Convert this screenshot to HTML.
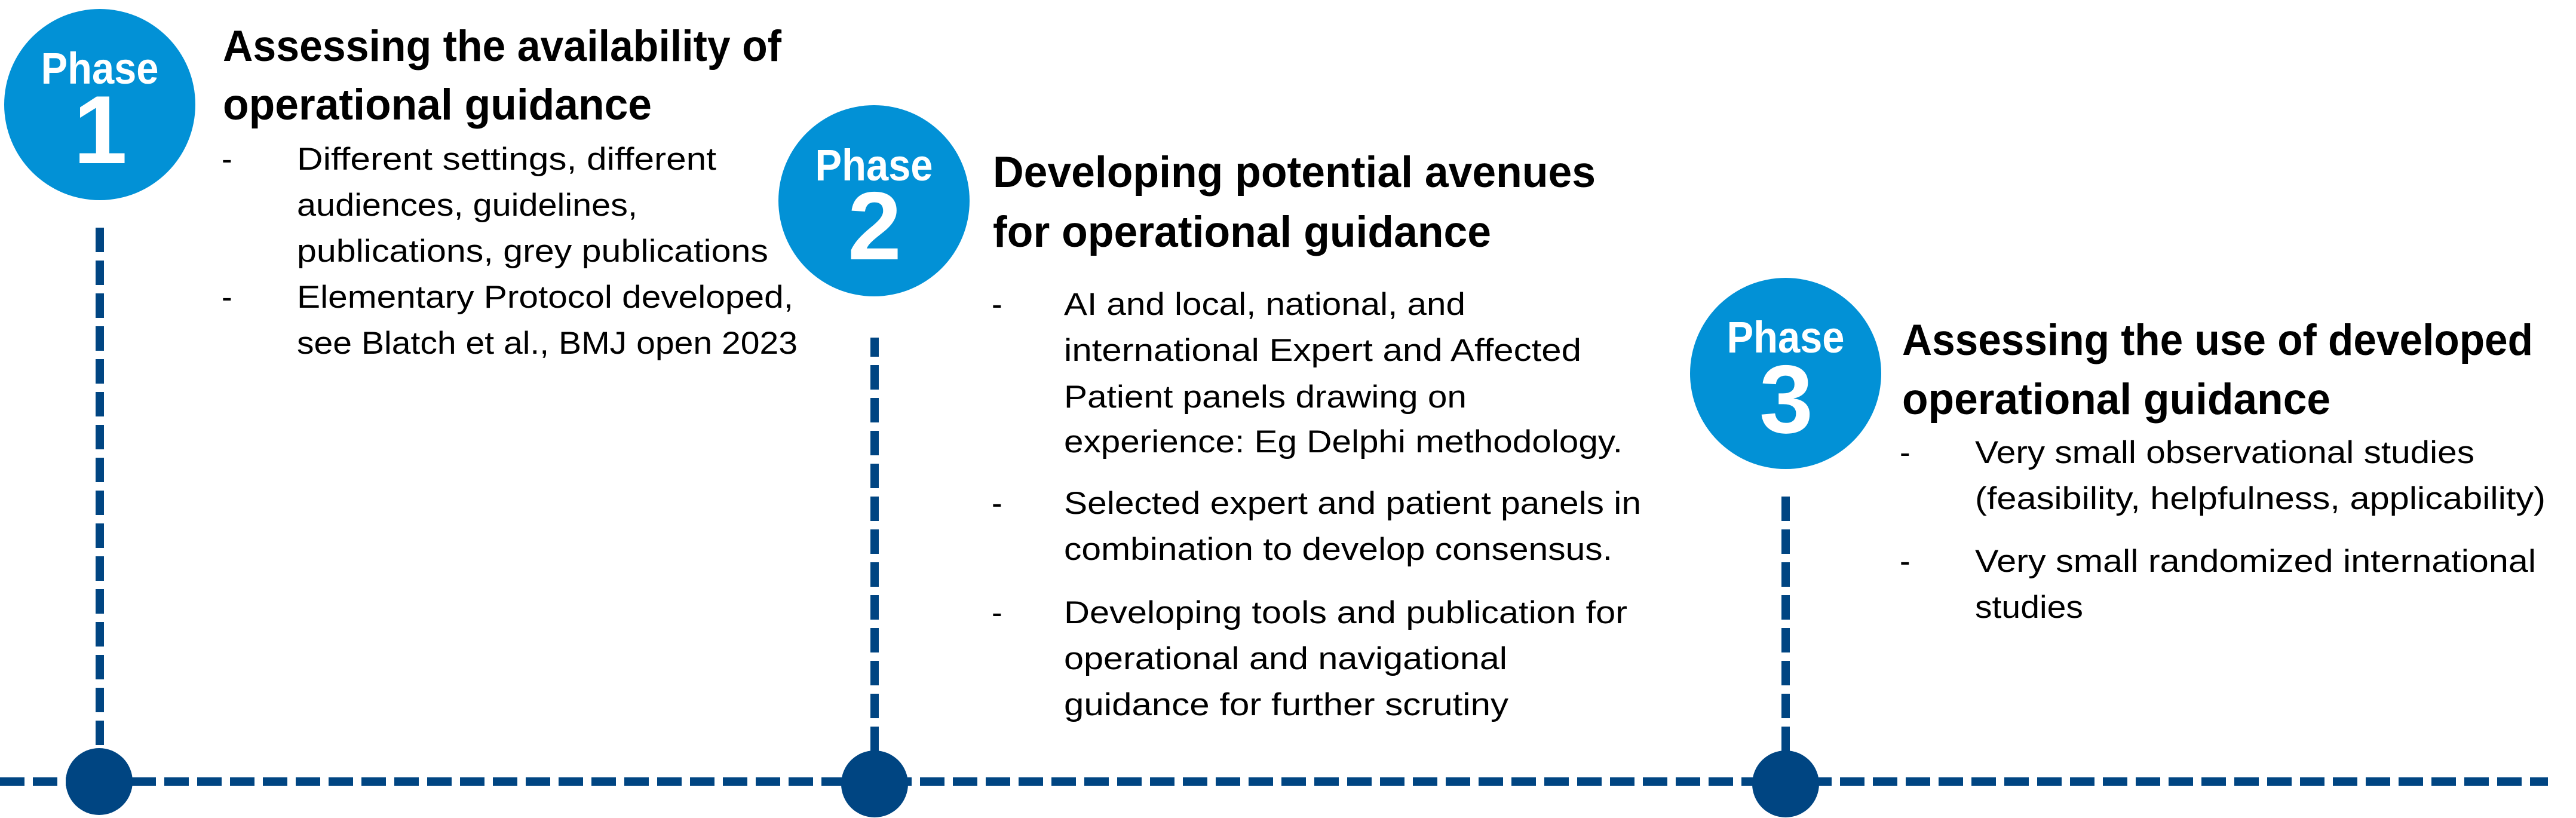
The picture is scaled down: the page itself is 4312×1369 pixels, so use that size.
<!DOCTYPE html>
<html>
<head>
<meta charset="utf-8">
<style>
html,body{margin:0;padding:0;background:#fff;width:4312px;height:1369px;overflow:hidden;}
svg{display:block;}
text{font-family:"Liberation Sans",Arial,sans-serif;}
.t{font-weight:bold;font-size:73px;fill:#000;}
.b{font-size:53px;fill:#000;}
.ph{font-weight:bold;font-size:74px;fill:#fff;}
.num{font-weight:bold;font-size:162px;fill:#fff;}
</style>
</head>
<body>
<svg width="4312" height="1369" viewBox="0 0 4312 1369" xmlns="http://www.w3.org/2000/svg">
  <!-- horizontal timeline -->
  <line x1="0" y1="1308" x2="4265" y2="1308" stroke="#004582" stroke-width="14" stroke-dasharray="41 14"/>
  <!-- vertical dashed lines -->
  <line x1="167" y1="381" x2="167" y2="1300" stroke="#004582" stroke-width="14" stroke-dasharray="41 14"/>
  <line x1="1464" y1="1312" x2="1464" y2="565" stroke="#004582" stroke-width="14" stroke-dasharray="41 14"/>
  <line x1="2989" y1="1312" x2="2989" y2="831" stroke="#004582" stroke-width="14" stroke-dasharray="41 14"/>
  <!-- dots -->
  <circle cx="166" cy="1308" r="56" fill="#004582"/>
  <circle cx="1464" cy="1312" r="56" fill="#004582"/>
  <circle cx="2989" cy="1312" r="56" fill="#004582"/>

  <!-- Phase circles -->
  <circle cx="167" cy="175" r="160" fill="#0291D6"/>
  <text class="ph" x="167" y="140" text-anchor="middle" textLength="197" lengthAdjust="spacingAndGlyphs">Phase</text>
  <text class="num" x="168" y="273" text-anchor="middle">1</text>

  <circle cx="1463" cy="336" r="160" fill="#0291D6"/>
  <text class="ph" x="1463" y="302" text-anchor="middle" textLength="197" lengthAdjust="spacingAndGlyphs">Phase</text>
  <text class="num" x="1464" y="434" text-anchor="middle">2</text>

  <circle cx="2989" cy="625" r="160" fill="#0291D6"/>
  <text class="ph" x="2989" y="590" text-anchor="middle" textLength="197" lengthAdjust="spacingAndGlyphs">Phase</text>
  <text class="num" x="2990" y="724" text-anchor="middle">3</text>

  <!-- Phase 1 text -->
  <text class="t" x="373" y="102" textLength="935" lengthAdjust="spacingAndGlyphs">Assessing the availability of</text>
  <text class="t" x="373" y="200" textLength="718" lengthAdjust="spacingAndGlyphs">operational guidance</text>
  <text class="b" x="371" y="284">-</text>
  <text class="b" x="497" y="284" textLength="702" lengthAdjust="spacingAndGlyphs">Different settings, different</text>
  <text class="b" x="497" y="361" textLength="570" lengthAdjust="spacingAndGlyphs">audiences, guidelines,</text>
  <text class="b" x="497" y="438" textLength="789" lengthAdjust="spacingAndGlyphs">publications, grey publications</text>
  <text class="b" x="371" y="515">-</text>
  <text class="b" x="497" y="515" textLength="831" lengthAdjust="spacingAndGlyphs">Elementary Protocol developed,</text>
  <text class="b" x="497" y="592" textLength="838" lengthAdjust="spacingAndGlyphs">see Blatch et al., BMJ open 2023</text>

  <!-- Phase 2 text -->
  <text class="t" x="1662" y="313" textLength="1009" lengthAdjust="spacingAndGlyphs">Developing potential avenues</text>
  <text class="t" x="1662" y="413" textLength="834" lengthAdjust="spacingAndGlyphs">for operational guidance</text>
  <text class="b" x="1660" y="527">-</text>
  <text class="b" x="1781" y="527" textLength="672" lengthAdjust="spacingAndGlyphs">AI and local, national, and</text>
  <text class="b" x="1781" y="604" textLength="866" lengthAdjust="spacingAndGlyphs">international Expert and Affected</text>
  <text class="b" x="1781" y="682" textLength="674" lengthAdjust="spacingAndGlyphs">Patient panels drawing on</text>
  <text class="b" x="1781" y="757" textLength="935" lengthAdjust="spacingAndGlyphs">experience: Eg Delphi methodology.</text>
  <text class="b" x="1660" y="860">-</text>
  <text class="b" x="1781" y="860" textLength="966" lengthAdjust="spacingAndGlyphs">Selected expert and patient panels in</text>
  <text class="b" x="1781" y="937" textLength="918" lengthAdjust="spacingAndGlyphs">combination to develop consensus.</text>
  <text class="b" x="1660" y="1043">-</text>
  <text class="b" x="1781" y="1043" textLength="943" lengthAdjust="spacingAndGlyphs">Developing tools and publication for</text>
  <text class="b" x="1781" y="1120" textLength="742" lengthAdjust="spacingAndGlyphs">operational and navigational</text>
  <text class="b" x="1781" y="1197" textLength="744" lengthAdjust="spacingAndGlyphs">guidance for further scrutiny</text>

  <!-- Phase 3 text -->
  <text class="t" x="3184" y="594" textLength="1056" lengthAdjust="spacingAndGlyphs">Assessing the use of developed</text>
  <text class="t" x="3184" y="693" textLength="717" lengthAdjust="spacingAndGlyphs">operational guidance</text>
  <text class="b" x="3180" y="775">-</text>
  <text class="b" x="3306" y="775" textLength="836" lengthAdjust="spacingAndGlyphs">Very small observational studies</text>
  <text class="b" x="3306" y="852" textLength="955" lengthAdjust="spacingAndGlyphs">(feasibility, helpfulness, applicability)</text>
  <text class="b" x="3180" y="957">-</text>
  <text class="b" x="3306" y="957" textLength="939" lengthAdjust="spacingAndGlyphs">Very small randomized international</text>
  <text class="b" x="3306" y="1034" textLength="181" lengthAdjust="spacingAndGlyphs">studies</text>
</svg>
</body>
</html>
